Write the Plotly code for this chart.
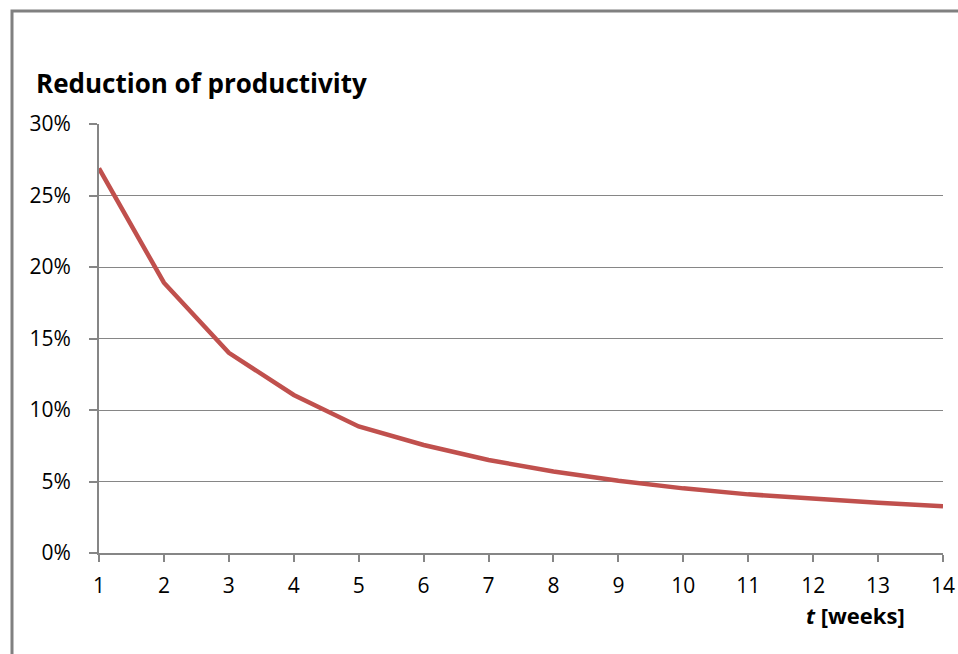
import plotly.graph_objects as go

weeks = list(range(1, 15))
reduction = [0.269, 0.189, 0.140, 0.1105, 0.0885, 0.0755, 0.065, 0.057, 0.0505,
             0.0452, 0.041, 0.0378, 0.0352, 0.0327]
y_ticks = [0, 0.05, 0.10, 0.15, 0.20, 0.25, 0.30]

W, H = 958, 654
PL, PR, PT, PB = 99, 943, 124, 553   # plot area in page pixels
L, R, T, B = PL, W - PR, PT, H - PB
pw = PR - PL
ph = PB - PT

def px_x(px):
    return (px - PL) / pw

def px_y(py):
    return (PB - py) / ph

grid = "#868686"
fnt = "'Open Sans', sans-serif"

fig = go.Figure()
fig.add_trace(go.Scatter(x=weeks, y=reduction, mode="lines",
                         line=dict(color="#C0504D", width=4.5), showlegend=False,
                         hoverinfo="skip"))

fig.update_layout(
    width=W, height=H,
    margin=dict(l=L, r=R, t=T, b=B, autoexpand=False),
    paper_bgcolor="white", plot_bgcolor="white",
    font=dict(family=fnt, size=21, color="#000000"),
    xaxis=dict(range=[1, 14], tickmode="array", tickvals=weeks,
               ticktext=[str(w) for w in weeks],
               showgrid=False, zeroline=False, showline=True, linecolor=grid,
               linewidth=2, ticks="outside", ticklen=7, tickcolor=grid,
               tickwidth=1.5, ticklabelstandoff=6,
               tickfont=dict(size=21, family=fnt)),
    yaxis=dict(range=[0, 0.30], tickmode="array", tickvals=y_ticks,
               tickformat=".0%", showgrid=True, gridcolor=grid, gridwidth=1.2,
               zeroline=False, showline=True, linecolor=grid, linewidth=2,
               ticks="outside", ticklen=8, tickcolor=grid, tickwidth=1.5,
               ticklabelstandoff=14,
               tickfont=dict(size=21, family=fnt)),
    shapes=[dict(type="rect", xref="paper", yref="paper",
                 x0=px_x(12), x1=px_x(1200), y0=px_y(900), y1=px_y(11),
                 line=dict(color="#808080", width=3), layer="below")],
    annotations=[
        dict(text="<b>Reduction of productivity</b>", xref="paper", yref="paper",
             x=px_x(34), y=px_y(83), xanchor="left", yanchor="middle",
             showarrow=False, font=dict(size=26, family=fnt, color="#000")),
        dict(text="<b><i>t</i> [weeks]</b>", xref="paper", yref="paper",
             x=px_x(907), y=px_y(615), xanchor="right", yanchor="middle",
             showarrow=False, font=dict(size=22, family=fnt, color="#000")),
    ],
)

fig.write_html("out.html",
               config={"displayModeBar": False},
               post_script="document.body.style.margin='0';"
                           "document.body.style.overflow='hidden';")
